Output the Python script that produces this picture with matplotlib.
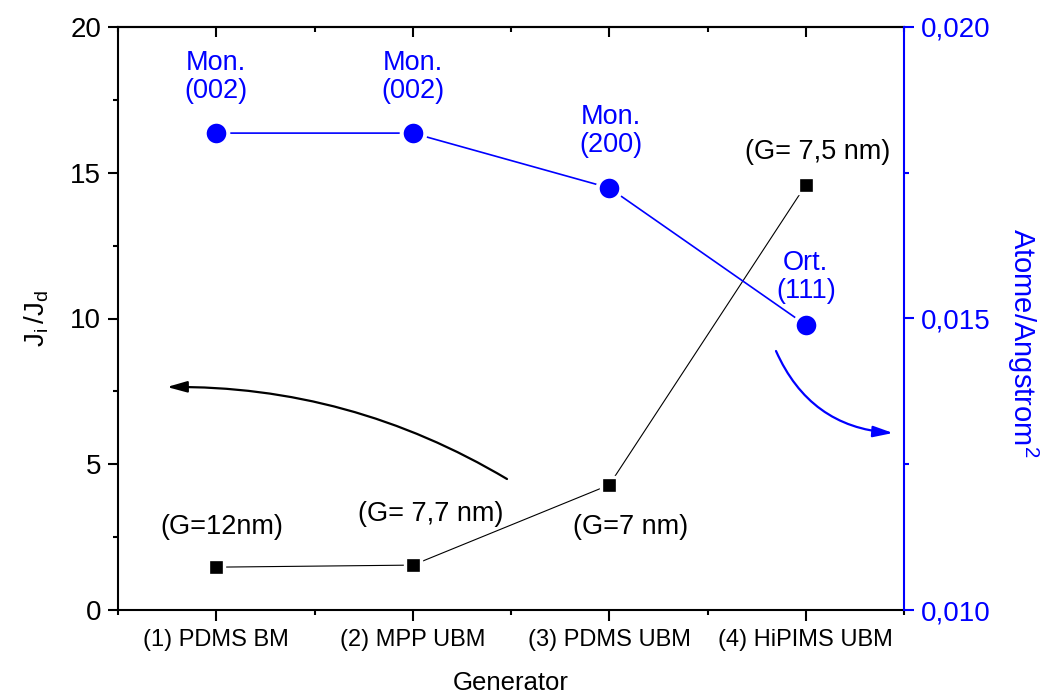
import numpy as np
import matplotlib
matplotlib.use('Agg')
import matplotlib.pyplot as plt
from matplotlib.ticker import MultipleLocator, FixedLocator, FuncFormatter

plt.rcParams['font.family'] = ['Liberation Sans', 'DejaVu Sans']
plt.rcParams['mathtext.default'] = 'regular'

# data
categories = ['(1) PDMS BM', '(2) MPP UBM', '(3) PDMS UBM', '(4) HiPIMS UBM']
ji_jd = [1.47, 1.54, 4.29, 14.58]
atome = [0.01818, 0.01818, 0.01724, 0.01489]
gap_labels = ['(G=12nm)', '(G= 7,7 nm)', '(G=7 nm)', '(G= 7,5 nm)']
phase_labels = ['Mon.\n(002)', 'Mon.\n(002)', 'Mon.\n(200)', 'Ort.\n(111)']

blue = '#0000ff'
x = np.arange(len(categories))

fig = plt.figure(figsize=(10.52, 6.97), dpi=100)
ax = fig.add_axes([118/1052, 1-610/697, (904-118)/1052, (610-27)/697])
ax2 = ax.twinx()

# black series (left axis)
ax.plot(x, ji_jd, color='black', lw=0.8, marker='s', ms=11.5,
        mfc='black', mec='white', mew=2.4, zorder=3)
# blue series (right axis)
ax2.plot(x, atome, color=blue, lw=1.2, marker='o', ms=17,
         mfc=blue, mec='white', mew=2.9, zorder=3)

ax.set_xlim(-0.5, 3.5)
ax.set_ylim(0, 20)
ax2.set_ylim(0.010, 0.020)

ax.set_xticks(x)
ax.set_xticklabels(categories, fontsize=17)
ax.xaxis.set_minor_locator(FixedLocator(np.arange(-0.5, 3.6, 1.0)))
ax.yaxis.set_major_locator(MultipleLocator(5))
ax.yaxis.set_minor_locator(MultipleLocator(2.5))
ax.tick_params(axis='both', which='major', direction='out', length=7, width=1.5, labelsize=20)
ax.tick_params(axis='both', which='minor', direction='out', length=3.5, width=1.5)
ax.tick_params(axis='x', which='major', length=8, pad=6, labelsize=17)
ax.tick_params(axis='y', pad=5)

# top axis: inward ticks only
top = ax.secondary_xaxis('top')
top.set_xticks(x)
top.xaxis.set_minor_locator(FixedLocator(np.arange(-0.5, 3.6, 1.0)))
top.tick_params(which='major', direction='in', length=7, width=1.5, labeltop=False)
top.tick_params(which='minor', direction='in', length=3.5, width=1.5)
top.spines['top'].set_linewidth(1.5)

ax2.yaxis.set_major_locator(MultipleLocator(0.005))
ax2.yaxis.set_minor_locator(MultipleLocator(0.0025))
ax2.yaxis.set_major_formatter(FuncFormatter(lambda v, p: f'{v:.3f}'.replace('.', ',')))
ax2.tick_params(axis='y', which='major', direction='out', length=7, width=1.5,
                labelsize=20, colors=blue, pad=5)
ax2.tick_params(axis='y', which='minor', direction='out', length=3.5, width=1.5, colors=blue)

for s in ['left', 'bottom', 'top']:
    ax.spines[s].set_linewidth(1.5)
ax.spines['right'].set_visible(False)
for s in ['left', 'bottom', 'top']:
    ax2.spines[s].set_visible(False)
ax2.spines['right'].set_color(blue)
ax2.spines['right'].set_linewidth(1.5)

ax.set_xlabel('Generator', fontsize=18.5, labelpad=14)
ax.set_ylabel('$J_i\\,/J_d$', fontsize=20, labelpad=14)
ax2.set_ylabel('Atome/Angstrom$^2$', fontsize=21, color=blue, rotation=270, labelpad=36)
ax2.yaxis.label.set_y(0.458)

# annotations
gap_pos = [(0.03, 2.85), (1.09, 3.29), (2.11, 2.85), (3.06, 15.71)]
for (gx, gy), t in zip(gap_pos, gap_labels):
    ax.text(gx, gy, t, fontsize=19.5, ha='center', va='center', color='black')
phase_pos = [(0.0, 18.28), (1.0, 18.28), (2.01, 16.43), (3.0, 11.41)]
for (px, py), t in zip(phase_pos, phase_labels):
    ax.text(px, py, t, fontsize=19.5, ha='center', va='center', color=blue,
            linespacing=1.1)

# curved arrows
ax.annotate('', xy=((167-118)/786, (610-387)/583), xytext=((507-118)/786, (610-479)/583),
            xycoords='axes fraction', textcoords='axes fraction',
            arrowprops=dict(arrowstyle='-|>,head_length=1.0,head_width=0.28',
                            connectionstyle='arc3,rad=0.14', color='black', lw=1.6,
                            mutation_scale=12, shrinkA=0, shrinkB=0))
ax.annotate('', xy=((893-118)/786, (610-433)/583), xytext=((776-118)/786, (610-351)/583),
            xycoords='axes fraction', textcoords='axes fraction',
            arrowprops=dict(arrowstyle='-|>,head_length=1.0,head_width=0.28',
                            connectionstyle='arc3,rad=0.3', color=blue, lw=1.6,
                            mutation_scale=12, shrinkA=0, shrinkB=0))

fig.savefig('out.png', dpi=100)
